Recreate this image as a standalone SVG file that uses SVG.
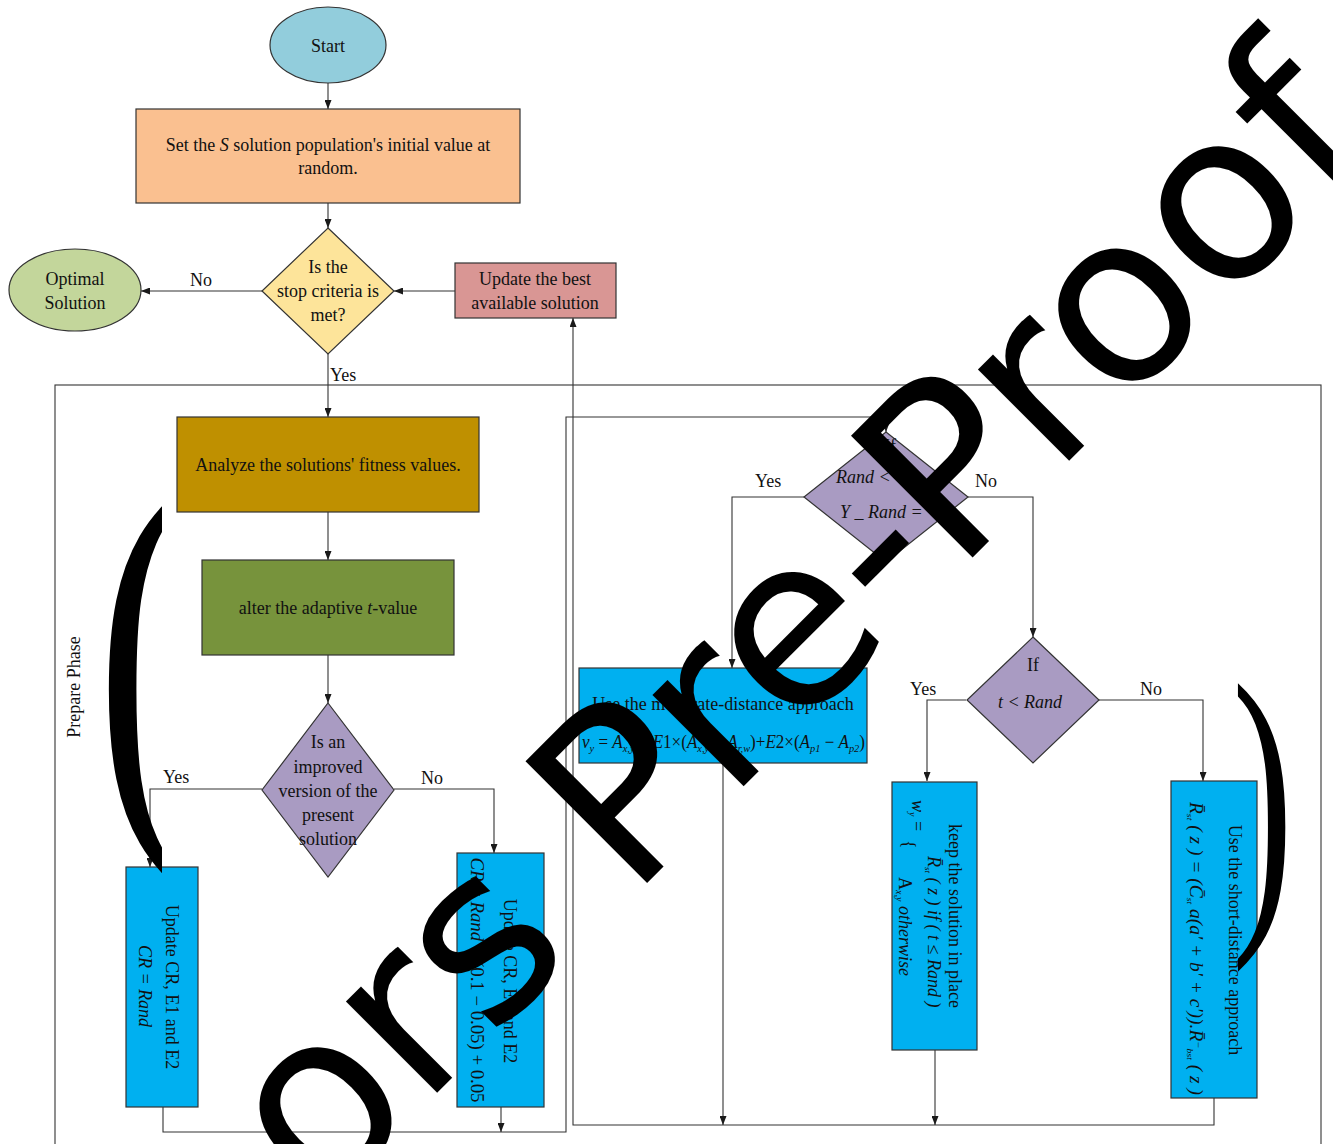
<svg xmlns="http://www.w3.org/2000/svg" width="1333" height="1144" viewBox="0 0 1333 1144">
<defs>
<marker id="ah" markerWidth="9" markerHeight="7" refX="9" refY="3.5" orient="auto" markerUnits="userSpaceOnUse"><path d="M0,0 L9,3.5 L0,7 z" fill="#1a1a1a"/></marker>
<clipPath id="clipL"><rect x="0" y="0" width="162" height="1144"/></clipPath>
</defs>
<style>
.t{font-family:"Liberation Serif","Times New Roman",serif;font-size:18px;fill:#111}
.c{text-anchor:middle}
.i{font-style:italic}
.n{stroke:#333;stroke-width:1.2}
.ln{fill:none;stroke:#333;stroke-width:1.1}
.blue{fill:#00B0F0}
.pur{fill:#A99BC2}
.wm{font-family:"DejaVu Sans",sans-serif;fill:#000}
.pa{font-family:"Liberation Serif",serif;fill:#000}
</style>
<rect width="1333" height="1144" fill="#fff"/>

<g id="frame">
<rect x="55" y="385" width="1266" height="800" fill="none" stroke="#333" stroke-width="1.1"/>
<text class="t" font-size="15" transform="translate(80,687) rotate(-90)" text-anchor="middle">Prepare Phase</text>
</g>

<g id="connectors" class="ln">
<line x1="328" y1="83" x2="328" y2="109" marker-end="url(#ah)"/>
<line x1="328" y1="203" x2="328" y2="228" marker-end="url(#ah)"/>
<line x1="262" y1="291" x2="141" y2="291" marker-end="url(#ah)"/>
<line x1="455" y1="291" x2="394" y2="291" marker-end="url(#ah)"/>
<line x1="328" y1="354" x2="328" y2="417" marker-end="url(#ah)"/>
<line x1="328" y1="512" x2="328" y2="560" marker-end="url(#ah)"/>
<line x1="328" y1="655" x2="328" y2="703" marker-end="url(#ah)"/>
<polyline points="262,789 150,789 150,867" marker-end="url(#ah)"/>
<polyline points="394,789 494,789 494,853" marker-end="url(#ah)"/>
<polyline points="163,1107 163,1132 566,1132 566,417 886,417 886,432" marker-end="url(#ah)"/>
<line x1="501" y1="1107" x2="501" y2="1132" marker-end="url(#ah)"/>
<polyline points="804,497 732,497 732,668" marker-end="url(#ah)"/>
<polyline points="968,497 1033,497 1033,637" marker-end="url(#ah)"/>
<polyline points="966,700 927,700 927,781" marker-end="url(#ah)"/>
<polyline points="1098,700 1203,700 1203,781" marker-end="url(#ah)"/>
<polyline points="1214,1098 1214,1125 573,1125 573,318" marker-end="url(#ah)"/>
<line x1="723" y1="763" x2="723" y2="1125" marker-end="url(#ah)"/>
<line x1="935" y1="1050" x2="935" y2="1125" marker-end="url(#ah)"/>
</g>

<g id="labels" class="t">
<text x="190" y="286">No</text>
<text x="330" y="381">Yes</text>
<text x="163" y="783">Yes</text>
<text x="421" y="784">No</text>
<text x="755" y="487">Yes</text>
<text x="975" y="487">No</text>
<text x="910" y="695">Yes</text>
<text x="1140" y="695">No</text>
</g>

<g id="start">
<ellipse cx="328" cy="45" rx="58" ry="38" fill="#92CDDC" class="n"/>
<text class="t c" x="328" y="52">Start</text>
</g>

<g id="init">
<rect x="136" y="109" width="384" height="94" fill="#FAC090" class="n"/>
<text class="t c" x="328" y="151">Set the <tspan class="i">S</tspan> solution population's initial value at</text>
<text class="t c" x="328" y="174">random.</text>
</g>

<g id="stop">
<polygon points="328,228 394,291 328,354 262,291" fill="#FDE49A" class="n"/>
<text class="t c" x="328" y="273">Is the</text>
<text class="t c" x="328" y="297">stop criteria is</text>
<text class="t c" x="328" y="321">met?</text>
</g>

<g id="optimal">
<ellipse cx="75" cy="290" rx="66" ry="41" fill="#C3D69B" class="n"/>
<text class="t c" x="75" y="285">Optimal</text>
<text class="t c" x="75" y="309">Solution</text>
</g>

<g id="updatebest">
<rect x="455" y="263" width="161" height="55" fill="#D99694" class="n"/>
<text class="t c" x="535" y="285">Update the best</text>
<text class="t c" x="535" y="309">available solution</text>
</g>

<g id="analyze">
<rect x="177" y="417" width="302" height="95" fill="#BF9000" class="n"/>
<text class="t c" x="328" y="471">Analyze the solutions' fitness values.</text>
</g>

<g id="alter">
<rect x="202" y="560" width="252" height="95" fill="#77933C" class="n"/>
<text class="t c" x="328" y="614">alter the adaptive <tspan class="i">t</tspan>-value</text>
</g>

<g id="improved">
<polygon points="328,703 394,790 328,877 262,790" class="pur n"/>
<text class="t c" x="328" y="748">Is an</text>
<text class="t c" x="328" y="773">improved</text>
<text class="t c" x="328" y="797">version of the</text>
<text class="t c" x="328" y="821">present</text>
<text class="t c" x="328" y="845">solution</text>
</g>

<g id="updA">
<rect x="126" y="867" width="72" height="240" class="blue n"/>
<text class="t c" font-size="19.5" transform="translate(166,987) rotate(90)">Update CR, E1 and E2</text>
<text class="t c i" font-size="19.5" transform="translate(139,986) rotate(90)">CR = Rand</text>
</g>

<g id="updB">
<rect x="457" y="853" width="87" height="254" class="blue n"/>
<text class="t c" font-size="19.5" transform="translate(504,981) rotate(90)">Update CR, E1 and E2</text>
<text class="t c" font-size="19" textLength="245" lengthAdjust="spacingAndGlyphs" transform="translate(471,980) rotate(90)"><tspan class="i">CR</tspan> = <tspan class="i">Rand</tspan> × (0.1 − 0.05) + 0.05</text>
</g>

<g id="randdiamond">
<polygon points="886,432 968,497 886,562 804,497" class="pur n"/>
<text class="t c" font-size="16" x="890" y="452">If</text>
<text class="t i" font-size="17" x="836" y="483">Rand &lt;</text>
<text class="t i" font-size="20" x="840" y="518">Y _ Rand =</text>
</g>

<g id="moderate">
<rect x="579" y="668" width="288" height="95" class="blue n"/>
<text class="t c" x="723" y="710">Use the moderate-distance approach</text>
<text class="t" font-size="17" x="582" y="748" textLength="283" lengthAdjust="spacingAndGlyphs"><tspan class="i">v</tspan><tspan font-size="11" class="i" dy="4">y</tspan><tspan dy="-4"> = </tspan><tspan class="i">A</tspan><tspan font-size="11" class="i" dy="4">x,y</tspan><tspan dy="-4"> + </tspan><tspan class="i">E</tspan>1×(<tspan class="i">A</tspan><tspan font-size="11" class="i" dy="4">x,y</tspan><tspan dy="-4"> − </tspan><tspan class="i">A</tspan><tspan font-size="11" class="i" dy="4">r,w</tspan><tspan dy="-4">)+</tspan><tspan class="i">E</tspan>2×(<tspan class="i">A</tspan><tspan font-size="11" class="i" dy="4">p1</tspan><tspan dy="-4"> − </tspan><tspan class="i">A</tspan><tspan font-size="11" class="i" dy="4">p2</tspan><tspan dy="-4">)</tspan></text>
</g>

<g id="tdiamond">
<polygon points="1033,637 1099,700 1033,763 967,700" class="pur n"/>
<text class="t c" x="1033" y="671">If</text>
<text class="t c i" font-size="21" x="1030" y="708">t &lt; Rand</text>
</g>

<g id="keep">
<rect x="892" y="782" width="85" height="268" class="blue n"/>
<text class="t c" font-size="19" transform="translate(949,916) rotate(90)">keep the solution in place</text>
<text class="t i" font-size="15" transform="translate(912,800) rotate(90)">w<tspan font-size="10" dy="3">y</tspan><tspan dy="-3" font-style="normal"> =</tspan></text>
<text class="t" font-size="40" transform="translate(903,840) rotate(90)">{</text>
<text class="t i" font-size="16" transform="translate(928,856) rotate(90)">R̄<tspan font-size="9" dy="3">st</tspan><tspan dy="-3"> ( z )   if ( t ≤ Rand )</tspan></text>
<text class="t i" font-size="16" transform="translate(899,877) rotate(90)"><tspan font-style="normal">A</tspan><tspan font-size="10" dy="3">x,y</tspan><tspan dy="-3">      otherwise</tspan></text>
</g>

<g id="short">
<rect x="1171" y="781" width="86" height="317" class="blue n"/>
<text class="t c" font-size="19" transform="translate(1229,940) rotate(90)">Use the short-distance approach</text>
<text class="t i" font-size="16" textLength="293" lengthAdjust="spacingAndGlyphs" transform="translate(1190,802) rotate(90)">R̄<tspan font-size="9" dy="3">st</tspan><tspan dy="-3"> ( z ) = (C̄</tspan><tspan font-size="9" dy="3">st</tspan><tspan dy="-3"> a(a′ + b′ + c′)).R̄</tspan><tspan font-size="10" dy="-5">−</tspan><tspan font-size="9" dy="8">bst</tspan><tspan dy="-3"> ( z )</tspan></text>
</g>

<g id="watermark">
<text class="wm" font-size="236" transform="translate(320,1210) rotate(-45)">ors Pre-Proof</text>
<text class="pa" font-size="318" transform="translate(1232,904) scale(0.58,1)">)</text>
<g clip-path="url(#clipL)"><text class="pa" font-size="450" transform="translate(96,798) scale(0.65,1)">(</text></g>
</g>
</svg>
